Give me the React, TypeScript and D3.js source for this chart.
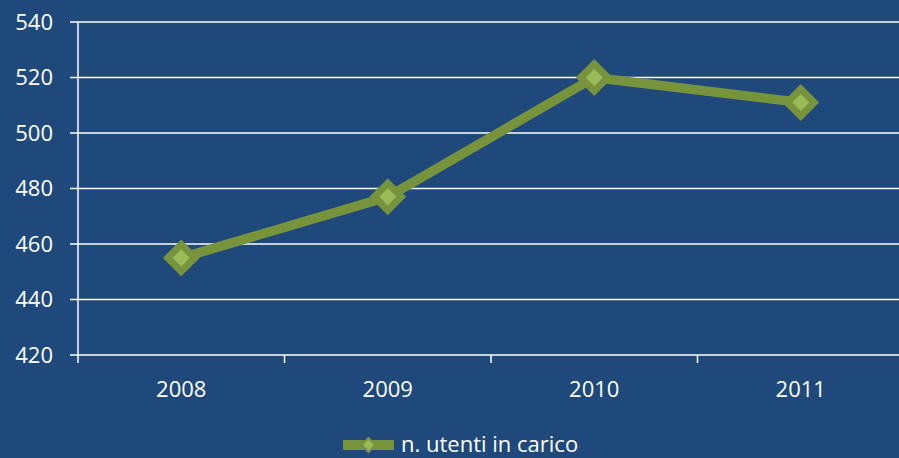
import React, { useRef, useEffect } from 'react';
import * as d3 from 'd3';

const years = ['2008', '2009', '2010', '2011'];
const utenti = [455, 477, 520, 511];
const yTicks = [420, 440, 460, 480, 500, 520, 540];
const seriesName = 'n. utenti in carico';

export default function App() {
  const ref = useRef<SVGSVGElement>(null);
  useEffect(() => {
    const W = 899;
    const H = 458;
    const svg = d3.select(ref.current);
    svg.selectAll('*').remove();
    svg.attr('width', W).attr('height', H)
      .style('display', 'block').style('position', 'fixed').style('left', 0).style('top', 0);
    const font = '"Open Sans", "Liberation Sans", sans-serif';
    const fs = 22;

    svg.append('rect').attr('width', W).attr('height', H).attr('fill', '#1F497B');

    const x = d3.scaleBand().domain(years).range([78, 904]);
    const y = d3.scaleLinear().domain([420, 540]).range([355, 22]);

    // gridlines + y labels
    yTicks.forEach(t => {
      svg.append('line')
        .attr('x1', 70).attr('x2', W)
        .attr('y1', y(t)).attr('y2', y(t))
        .attr('stroke', '#fff').attr('stroke-width', 1.5);
      svg.append('text')
        .attr('x', 53).attr('y', y(t)).attr('dy', '0.35em')
        .attr('text-anchor', 'end').attr('fill', '#fff')
        .attr('font-family', font).attr('font-size', fs)
        .text(t);
    });

    // y axis
    svg.append('line')
      .attr('x1', 78).attr('x2', 78).attr('y1', y(540)).attr('y2', 363)
      .attr('stroke', '#fff').attr('stroke-width', 1.5);

    // x ticks + labels
    years.forEach((yr, i) => {
      if (i > 0) {
        const bx = x(yr)!;
        svg.append('line')
          .attr('x1', bx).attr('x2', bx).attr('y1', 355).attr('y2', 363)
          .attr('stroke', '#fff').attr('stroke-width', 1.5);
      }
      svg.append('text')
        .attr('x', x(yr)! + x.bandwidth() / 2).attr('y', 389).attr('dy', '0.35em')
        .attr('text-anchor', 'middle').attr('fill', '#fff')
        .attr('font-family', font).attr('font-size', fs)
        .text(yr);
    });

    const pts: [number, number][] = utenti.map((v, i) => [x(years[i])! + x.bandwidth() / 2, y(v)]);

    svg.append('path')
      .attr('d', d3.line()(pts))
      .attr('fill', 'none').attr('stroke', '#77933C').attr('stroke-width', 9.5)
      .attr('stroke-linejoin', 'round');

    const diamond = (cx: number, cy: number, r: number) =>
      `M${cx},${cy - r}L${cx + r},${cy}L${cx},${cy + r}L${cx - r},${cy}Z`;

    pts.forEach(([px, py]) => {
      svg.append('path')
        .attr('d', diamond(px, py, 13.5))
        .attr('fill', '#9BBB59').attr('stroke', '#77933C').attr('stroke-width', 7)
        .attr('stroke-linejoin', 'miter');
    });

    // legend
    const ly = 444;
    svg.append('line')
      .attr('x1', 343).attr('x2', 394).attr('y1', ly + 1).attr('y2', ly + 1)
      .attr('stroke', '#77933C').attr('stroke-width', 10);
    svg.append('path')
      .attr('d', diamond(368.5, ly + 1, 7))
      .attr('fill', '#9BBB59').attr('stroke', '#77933C').attr('stroke-width', 2);
    svg.append('text')
      .attr('x', 401).attr('y', ly).attr('dy', '0.35em')
      .attr('fill', '#fff').attr('font-family', font).attr('font-size', fs)
      .text(seriesName);
  }, []);
  return <svg ref={ref} />;
}
